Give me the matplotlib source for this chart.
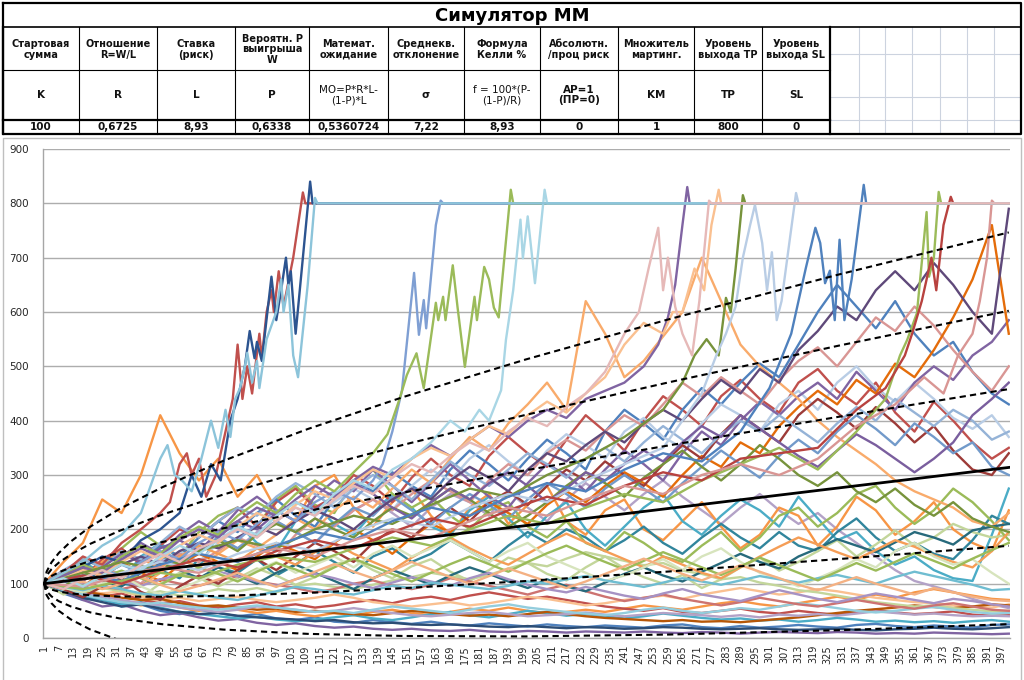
import matplotlib
matplotlib.use("Agg")
import matplotlib.pyplot as plt

# ---------------- table data ----------------
TITLE = "Симулятор ММ"
HEADERS = ["Стартовая\nсумма", "Отношение\nR=W/L", "Ставка\n(риск)", "Вероятн. P\nвыигрыша\nW",
           "Математ.\nожидание", "Среднекв.\nотклонение", "Формула\nКелли %", "Абсолютн.\n/проц риск",
           "Множитель\nмартинг.", "Уровень\nвыхода TP", "Уровень\nвыхода SL"]
FORMULAS = ["K", "R", "L", "P", "MO=P*R*L-\n(1-P)*L", "σ", "f = 100*(P-\n(1-P)/R)",
            "AP=1\n(ПР=0)", "KM", "TP", "SL"]
FORMULA_BOLD = [True, True, True, True, False, True, False, True, True, True, True]
VALUES = ["100", "0,6725", "8,93", "0,6338", "0,5360724", "7,22", "8,93", "0", "1", "800", "0"]

# ---------------- chart data ----------------
STEPS = [1, 9, 17, 25, 33, 41, 49, 57, 65, 73, 81, 89, 97, 105, 113, 121, 129, 137, 145, 153,
         161, 169, 177, 185, 193, 201, 209, 217, 225, 233, 241, 249, 257, 265, 273, 281, 289, 297,
         305, 313, 321, 329, 337, 345, 353, 361, 369, 377, 385, 393, 400]

N1 = [100,140,175,255,230,300,410,340,290,330, 260,300,235,215,280,300,240,205,250,275,
      225,190,240,265,210,245,280,215,190,235, 255,200,180,215,250,205,165,190,240,225,
      170,205,260,235,190,215,250,200,175,160, 235]
N2 = [100,115,140,120,105,150,175,145,130,190, 210,175,160,215,245,210,190,230,265,240,
      205,190,235,260,220,185,225,250,200,170, 205,240,265,215,190,225,255,235,205,260,
      220,180,195,160,135,150,125,110,105,190, 275]
N3 = [100,85,110,130,100,95,125,110,145,130, 120,145,115,135,160,140,120,150,165,140,
      155,180,160,140,170,195,175,200,185,160, 180,205,175,155,185,210,185,165,195,170,
      160,195,220,185,160,175,155,145,180,225, 210]
N4 = [100,80,95,115,90,75,100,120,110,95, 110,128,115,98,112,135,145,125,110,132,
      145,122,105,125,148,138,118,106,130,150, 128,112,100,116,92,108,130,148,124,140,
      160,180,150,172,198,170,185,210,195,185, 190]
N5 = [100,120,145,130,165,195,170,150,195,225, 240,205,255,280,245,230,290,310,265,240,
      260,225,200,235,250,205,185,215,175,160, 195,175,150,140,170,195,160,185,225,240,
      205,230,265,280,240,210,235,275,250,215, 180]
N6 = [100,125,110,145,165,135,170,200,185,215, 240,205,250,275,240,260,300,280,250,295,
      330,300,280,335,370,340,315,365,410,380, 345,400,445,420,390,445,475,440,415,470,
      495,455,430,470,415,380,435,400,360,330, 350]
N7 = [100,110,135,120,100,145,170,150,185,215, 195,230,255,225,205,255,290,270,305,280,
      260,310,345,320,290,330,365,340,310,380, 420,395,365,420,460,430,470,505,480,540,
      600,650,610,570,620,560,520,545,490,450, 430]
N8 = [100,90,115,135,115,100,130,160,140,175, 200,185,215,240,225,250,275,255,235,280,
      310,290,330,355,325,300,345,375,355,330, 380,405,370,350,395,430,410,380,430,455,
      420,470,500,460,435,470,440,405,385,410, 370]
N9 = [100,115,135,120,150,175,155,190,215,195, 235,260,235,215,260,290,270,310,280,250,
      285,320,290,260,240,285,320,300,270,310, 345,320,290,340,380,355,400,435,410,445,
      470,440,490,455,420,470,500,475,520,545, 585]
N10 = [100,95,110,130,115,100,135,155,140,160, 185,170,150,190,220,205,235,255,235,265,
       290,270,250,290,320,300,340,365,345,380, 410,390,430,470,445,480,455,430,475,510,
       535,500,545,590,565,610,575,530,490,455, 500]
N11 = [100,110,95,120,140,120,105,135,155,140, 125,150,175,160,145,175,200,180,155,185,
       210,195,225,250,230,210,245,270,250,280, 305,285,260,300,335,315,360,340,390,425,
       455,430,475,450,505,480,530,590,660,760, 560]
N12 = [100,90,105,125,110,95,120,145,130,155, 180,165,190,220,200,235,260,240,275,310,
       285,330,370,345,395,430,470,420,620,560, 480,510,555,600,700,620,540,500,470,440,
       400,370,345,320,290,270,255,240,215,205, 230]
N13 = [100,90,75,95,110,85,70,95,115,100, 125,145,125,150,175,160,140,175,200,185,
       215,240,215,250,270,245,280,310,290,325, 300,280,320,355,330,375,410,385,360,410,
       440,415,385,425,395,360,390,345,310,300, 340]
N14 = [100,115,130,110,95,125,145,130,160,185, 165,195,215,195,175,210,235,255,230,205,
       240,265,250,225,270,240,215,255,285,260, 235,265,290,260,235,210,240,265,235,210,
       230,200,175,150,125,105,95,85,72,62, 55]
N15 = [100,105,90,115,135,120,150,135,160,185, 165,190,215,195,175,210,240,225,260,235,
       210,240,265,245,220,255,285,265,240,275, 300,275,250,285,315,345,320,295,335,365,
       340,380,410,385,355,395,370,340,360,315, 300]
N16 = [100,92,85,100,115,95,80,90,105,120, 105,125,140,120,135,150,130,155,170,150,
       165,180,160,140,160,175,150,135,120,105, 115,130,145,125,150,165,140,120,110,95,
       110,125,145,130,160,175,150,135,145,120, 100]
N17 = [100,110,125,115,135,150,135,160,175,165, 185,205,190,215,235,220,200,230,255,275,
       255,290,315,295,270,310,340,325,355,380, 360,395,420,400,440,475,450,495,470,530,
       565,610,585,640,675,640,690,650,600,560, 790]
M1 = [100,110,125,105,95,120,140,125,110,130, 115,100,120,135,120,105,90,110,125,112,
      98,115,130,118,104,92,108,95,86,102, 118,130,115,104,122,138,155,140,128,150,
      165,182,170,158,176,195,185,172,198,205, 210]
M2 = [100,120,110,140,160,145,130,150,170,155, 140,165,150,135,158,175,155,140,125,148,
      168,185,165,148,135,155,175,192,176,160, 145,130,150,135,120,110,130,150,168,185,
      172,158,145,162,180,168,152,140,130,160, 195]
M3 = [100,125,145,130,160,145,175,205,185,215, 240,225,260,285,265,240,275,300,280,255,
      290,325,300,280,310,340,320,295,330,350, 325,360,390,365,340,375,400,380,410,385,
      360,395,425,400,440,415,390,420,400,365, 380]
M4 = [100,95,115,130,110,140,155,135,165,180, 160,190,210,195,220,200,185,215,240,225,
      250,275,255,230,205,225,250,280,305,285, 260,295,320,345,315,290,320,355,330,300,
      280,305,270,250,275,245,225,250,220,205, 195]
M5 = [100,115,105,130,155,140,165,180,160,195, 215,200,230,250,235,260,285,265,240,220,
      250,275,255,285,305,280,250,275,305,290, 320,345,325,360,390,370,410,385,360,335,
      315,345,375,355,330,305,330,360,410,440, 470]
L1 = [100,82,70,74,58,62,50,44,52,46, 40,44,36,33,38,30,28,33,29,26,
      30,25,23,27,24,21,25,22,20,23, 21,19,23,25,20,18,22,19,21,24,
      21,19,24,26,22,20,23,21,19,24, 25]
L2 = [100,85,70,58,62,50,42,46,38,32, 35,28,24,27,22,19,21,17,15,17,
      14,13,15,12,11,13,12,10,12,11, 10,12,10,9,11,10,8,10,11,10,
      9,11,10,8,9,8,10,9,8,7, 8]
L3 = [100,88,76,82,68,60,65,56,50,58, 52,46,50,44,40,46,42,48,52,46,
      42,48,54,50,56,50,45,48,52,48, 54,60,56,52,58,64,68,62,58,64,
      70,76,70,80,74,84,90,84,78,72, 70]
L4 = [100,90,78,70,62,66,56,48,44,40, 36,39,34,31,34,38,42,36,33,38,
      44,48,42,38,44,50,46,41,44,40, 36,40,45,41,37,34,36,32,34,30,
      33,37,34,30,32,29,31,28,31,33, 30]
L5 = [100,92,84,76,82,70,64,68,60,56, 62,66,58,62,56,60,66,70,64,72,
      76,70,78,84,78,72,76,70,64,58, 54,50,55,48,46,50,54,48,45,50,
      46,43,48,52,47,44,46,49,43,41, 42]
L6 = [100,96,88,82,86,76,70,74,68,72, 76,70,66,70,74,80,74,66,62,58,
      62,66,60,64,70,76,72,66,60,64, 70,74,78,72,80,86,92,86,80,84,
      90,86,80,74,70,66,64,60,58,56, 62]
L7 = [100,86,74,66,58,62,54,48,44,46, 41,38,36,34,31,33,29,27,28,25,
      24,25,23,21,20,22,20,18,20,19, 17,18,20,19,17,16,17,18,16,15,
      16,17,15,14,16,17,19,17,16,18, 20]
L8 = [100,94,86,80,74,70,72,64,58,60, 56,52,54,48,50,46,44,42,46,50,
      47,44,41,43,40,44,48,44,40,37, 35,33,31,33,30,31,29,32,35,38,
      42,46,50,53,56,60,57,55,58,62, 60]
L9 = [100,90,82,76,70,64,60,56,52,48, 52,58,56,52,48,50,55,50,46,42,
      40,43,46,48,44,40,42,44,47,43, 40,43,46,44,42,39,42,38,43,41,
      44,41,45,49,46,43,45,42,40,41, 40]
L10 = [100,90,84,92,86,80,86,78,82,90, 86,92,84,96,100,94,90,98,106,112,
       120,114,108,116,128,138,132,146,158,150, 142,134,138,124,118,108,112,102,96,88,
       84,78,72,66,62,58,60,55,52,49, 50]
L11 = [100,88,80,72,66,62,65,60,56,52, 56,60,56,52,48,50,46,52,58,54,
       50,46,52,58,62,56,52,48,45,42, 46,52,56,50,46,50,55,52,58,64,
       60,55,50,47,50,54,57,52,48,45, 46]
L12 = [100,108,102,94,90,98,108,100,96,106, 114,104,98,92,84,90,100,106,96,90,
       98,110,104,96,88,80,90,98,86,76, 68,74,80,72,66,60,66,74,68,62,
       58,64,70,64,58,54,60,64,58,52, 50]
L13 = [100,106,98,110,104,96,108,116,110,122, 114,104,96,108,118,110,100,92,102,112,
       104,96,110,120,108,98,90,84,94,86, 78,72,82,90,80,74,68,78,88,80,
       72,66,74,82,76,70,64,72,68,62, 58]
L14 = [100,94,88,96,90,82,78,86,80,74, 70,78,86,94,90,84,80,88,96,92,
       102,98,94,90,96,104,100,108,114,106, 100,94,102,110,104,98,106,114,108,102,
       110,116,108,100,112,122,114,106,98,88, 90]
L15 = [100,108,96,112,124,110,98,116,130,118, 104,122,138,126,112,130,146,132,118,104,
       120,136,150,136,122,140,156,170,154,140, 126,142,158,144,130,116,132,148,134,120,
       106,122,138,124,140,156,142,128,146,162, 175]
L16 = [100,94,104,90,100,112,98,86,96,108, 120,106,94,108,122,136,122,110,124,140,
       126,112,100,114,128,116,104,92,104,118, 132,146,132,118,106,120,134,122,110,98,
       88,100,112,100,90,80,92,84,76,70, 68]

# walks that reach the take-profit level (own step lists)
HA_X = [1,9,17,25,33,41,49,53,57,60,62,65,68,72,76,79,81,83,85,87,90,91,93,95,96,98,100,104,108,109,400]
HA_Y = [100,120,150,135,175,200,230,250,320,340,300,330,260,300,380,440,540,440,500,450,560,515,600,640,600,675,610,700,820,800,800]
HB_X = [1,9,17,25,33,41,49,57,62,66,70,74,78,81,84,86,88,89,91,95,97,99,101,102,103,105,108,111,112,400]
HB_Y = [100,110,130,150,140,180,200,230,300,260,320,290,400,440,500,565,515,545,510,665,585,640,700,650,675,560,700,840,800,800]
HC_X = [1,9,17,25,33,41,45,49,52,55,58,62,66,70,73,76,78,80,82,84,85,87,89,90,93,97,99,100,102,104,106,110,113,114,400]
HC_Y = [100,120,140,170,190,230,280,330,355,300,290,270,330,400,350,420,370,440,460,500,525,470,510,460,550,600,660,600,650,520,480,650,810,800,800]
HD_X = [1,9,17,25,33,41,49,57,65,73,81,89,97,105,113,121,129,137,141,145,149,154,156,158,159,163,165,166,400]
HD_Y = [100,92,110,125,115,140,160,145,175,195,180,210,235,215,250,270,255,290,320,380,456,672,558,622,570,760,805,800,800]
HE_X = [1,9,17,25,33,41,49,57,65,73,81,89,97,105,113,121,129,137,143,148,151,155,158,163,164,166,167,170,172,175,179,180,183,185,187,189,194,195,400]
HE_Y = [100,115,135,120,150,170,155,185,205,190,225,250,230,265,290,270,305,340,375,440,484,524,460,617,585,628,585,686,608,499,628,585,683,660,608,590,825,800,800]
HF_X = [1,9,17,25,33,41,49,57,65,73,81,89,97,105,113,121,129,137,145,153,161,169,175,181,185,190,192,195,198,199,201,204,208,209,400]
HF_Y = [100,110,95,115,135,125,150,170,155,180,205,190,225,250,230,265,290,275,310,330,360,400,380,420,400,456,549,640,770,699,776,653,825,800,800]
HG_X = [1,9,17,25,33,41,49,57,65,73,81,89,97,105,113,121,129,137,145,153,161,169,177,185,193,201,209,217,225,233,241,249,255,259,262,265,267,268,400]
HG_Y = [100,115,130,120,145,165,150,180,200,185,215,240,225,255,280,260,290,315,300,330,355,335,365,390,370,400,420,405,440,455,470,500,540,590,650,760,830,800,800]
HH_X = [1,9,17,25,33,41,49,57,65,73,81,89,97,105,113,121,129,137,145,153,161,169,177,185,193,201,209,217,225,233,241,247,251,255,257,259,262,265,269,272,276,277,400]
HH_Y = [100,90,110,125,110,135,155,140,165,180,200,185,215,240,225,255,280,265,295,320,305,335,360,345,380,405,390,425,450,490,560,600,680,755,640,700,610,560,520,620,805,800,800]
HI_X = [1,9,17,25,33,41,49,57,65,73,81,89,97,105,113,121,129,137,145,153,161,169,177,185,193,201,209,217,225,233,241,249,257,261,265,270,274,277,280,281,400]
HI_Y = [100,110,125,115,140,160,145,170,190,175,205,230,215,245,270,255,285,310,295,330,350,335,365,390,375,410,435,415,450,480,540,580,560,600,600,680,640,760,825,800,800]
HJ_X = [1,17,33,49,65,81,97,113,129,145,161,177,193,209,225,241,257,265,270,275,280,283,285,287,290,291,400]
HJ_Y = [100,120,140,125,160,180,165,200,225,210,245,275,260,300,330,370,420,470,520,550,520,626,600,680,815,800,800]
HK_X = [1,17,33,49,65,81,97,113,129,145,161,177,193,209,225,241,257,265,273,279,283,287,290,293,295,298,300,302,304,306,309,312,313,400]
HK_Y = [100,95,120,140,125,155,175,160,195,220,205,240,265,250,290,320,350,400,450,520,560,610,700,760,797,727,640,710,585,620,720,819,800,800]
HL_X = [1,17,33,49,65,81,97,113,129,145,161,177,193,209,225,241,257,273,289,301,310,316,320,322,324,326,328,330,332,335,340,341,400]
HL_Y = [100,115,105,135,155,140,170,195,180,215,240,225,260,285,270,310,340,325,380,460,560,680,755,727,653,676,585,733,585,660,834,800,800]
HM_X = [1,17,33,49,65,81,97,113,129,145,161,177,193,209,225,241,257,273,289,305,321,337,349,355,358,362,366,367,369,371,372,400]
HM_Y = [100,90,105,120,110,135,150,140,165,185,170,200,225,210,240,265,250,290,320,350,310,380,440,520,549,598,784,665,700,821,800,800]
HN_X = [1,17,33,49,65,81,97,113,129,145,161,177,193,209,225,241,257,273,289,305,321,337,349,357,360,364,368,370,373,376,377,400]
HN_Y = [100,115,100,125,145,130,160,180,165,195,220,205,235,260,245,280,305,290,330,340,350,420,460,520,560,620,700,640,760,812,800,800]
HO_X = [1,17,33,49,65,81,97,113,129,145,161,177,193,209,225,241,257,273,289,305,321,337,353,365,373,379,385,388,391,393,394,400]
HO_Y = [100,95,115,130,120,145,165,150,180,200,185,215,240,225,255,280,265,300,320,300,330,390,430,480,450,520,560,620,700,805,800,800]

# theoretical envelope (mean and one standard deviation) read at a few steps
ENV_STEPS = [1, 2, 4, 7, 12, 20, 32, 50, 75, 110, 150, 200, 260, 330, 400]
ENV_MEAN = [100, 100.5, 101.6, 103.2, 105.9, 110.2, 116.6, 126.3, 139.7, 158.4, 179.9, 206.7, 238.8, 276.4, 313.9]
ENV_DEV = [0, 7.22, 12.5, 17.7, 23.9, 31.5, 40.2, 50.5, 62.1, 75.4, 88.1, 101.9, 116.2, 131.0, 144.2]

Y_TICKS = [0, 100, 200, 300, 400, 500, 600, 700, 800, 900]
X_TICKS = list(range(1, 400, 6))

# ---------------- styles ----------------
GRID_SERIES = [
    (N14, "#B3A2C7"), (L1, "#4F81BD"), (N1, "#F79646"), (L2, "#8064A2"), (N2, "#4BACC6"),
    (L3, "#F79646"), (N3, "#31859C"), (L4, "#4BACC6"), (N4, "#C3D69B"), (L5, "#C0504D"),
    (N5, "#9BBB59"), (L6, "#FAC090"), (N6, "#C0504D"), (L7, "#2C4D75"), (N7, "#4F81BD"),
    (L8, "#B65708"), (N8, "#B9CDE5"), (L9, "#B3A2C7"), (N9, "#8064A2"), (L10, "#C3D69B"),
    (N10, "#D99694"), (L11, "#93CDDD"), (N11, "#E46C0A"), (L12, "#CD7371"), (N12, "#F9AB6B"),
    (M1, "#276A7C"), (N13, "#9D3B38"), (M2, "#F59D56"), (N15, "#729ACA"), (M3, "#95B3D7"),
    (L13, "#A692C4"), (N16, "#D7E4BD"), (M4, "#77933C"), (L14, "#6FBDD1"), (M5, "#7A5E9E"),
    (L15, "#9BBB59"), (L16, "#F4B183"), (N17, "#5F497A"),
]
HIT_SERIES = [
    (HA_X, HA_Y, "#C0504D"), (HB_X, HB_Y, "#2C5490"), (HD_X, HD_Y, "#7F9FD3"),
    (HE_X, HE_Y, "#9BBB59"), (HG_X, HG_Y, "#8064A2"), (HI_X, HI_Y, "#FAC090"),
    (HJ_X, HJ_Y, "#77933C"), (HK_X, HK_Y, "#B9CDE5"), (HL_X, HL_Y, "#4F81BD"),
    (HM_X, HM_Y, "#9BBB59"), (HN_X, HN_Y, "#B8423F"), (HO_X, HO_Y, "#D99694"),
    (HF_X, HF_Y, "#A9D6E5"), (HC_X, HC_Y, "#8CC4DA"), (HH_X, HH_Y, "#E6B9B8"),
]

W, H = 1024, 680
fig = plt.figure(figsize=(W / 100, H / 100), dpi=100)
fig.patch.set_facecolor("white")

bg = fig.add_axes([0, 0, 1, 1], zorder=0)
bg.set_xlim(0, W)
bg.set_ylim(H, 0)
bg.axis("off")

# ---- table ----
COL_X = [3, 79, 157, 235, 309, 388, 464, 540, 618, 694, 762, 830]
R_TOP, R_TITLE, R_HEAD, R_FORM, R_VAL = 3, 27, 70, 120, 133
RIGHT = 1021
light = "#CCD3DF"
for gx in [859, 885, 912, 940, 967, 994]:
    bg.plot([gx, gx], [R_TITLE, R_VAL], color=light, lw=0.8)
for gy in [54, 97, R_FORM]:
    bg.plot([830, RIGHT], [gy, gy], color=light, lw=0.8)
bg.plot([3, RIGHT, RIGHT, 3, 3], [R_TOP, R_TOP, R_VAL + 1, R_VAL + 1, R_TOP], color="black", lw=1.6)
bg.plot([3, RIGHT], [R_TITLE, R_TITLE], color="black", lw=1.2)
bg.plot([3, 830], [R_HEAD, R_HEAD], color="black", lw=0.8)
bg.plot([3, 830], [R_FORM, R_FORM], color="black", lw=1.6)
for i, cx in enumerate(COL_X):
    bg.plot([cx, cx], [R_TITLE, R_VAL + 1], color="black", lw=1.6 if i in (0, len(COL_X) - 1) else 0.8)

bg.text(512, 16, TITLE, ha="center", va="center", fontsize=13, fontweight="bold")
for i in range(len(HEADERS)):
    cx = (COL_X[i] + COL_X[i + 1]) / 2
    bg.text(cx, (R_TITLE + R_HEAD) / 2 + 1, HEADERS[i], ha="center", va="center", fontsize=7,
            fontweight="bold", linespacing=1.05, color="#111111")
    bg.text(cx, (R_HEAD + R_FORM) / 2, FORMULAS[i], ha="center", va="center", fontsize=7.5,
            fontweight="bold" if FORMULA_BOLD[i] else "normal", linespacing=1.1, color="#111111")
    bg.text(cx, (R_FORM + R_VAL) / 2 + 1, VALUES[i], ha="center", va="center", fontsize=7.5,
            fontweight="bold", color="#111111")

# chart border
bg.plot([3, 3, RIGHT, RIGHT], [H + 5, 138, 138, H + 5], color="#BFBFBF", lw=1.0)

# ---- chart ----
PL, PR, PT, PB = 43, 1010, 149, 638
ax = fig.add_axes([PL / W, (H - PB) / H, (PR - PL) / W, (PB - PT) / H], zorder=1)
ax.set_facecolor("none")
ax.set_xlim(0.5, 400.5)
ax.set_ylim(0, 900)
ax.set_yticks(Y_TICKS)
ax.yaxis.grid(True, color="#ADADAD", lw=1.0)
ax.set_axisbelow(True)
for s in ("top", "right"):
    ax.spines[s].set_visible(False)
for s in ("left", "bottom"):
    ax.spines[s].set_color("#A6A6A6")
    ax.spines[s].set_linewidth(1.0)
ax.set_xticks(X_TICKS)
ax.set_xticklabels([str(v) for v in X_TICKS], rotation=90, fontsize=7, color="#262626")
ax.tick_params(axis="x", length=0, pad=5)
ax.tick_params(axis="y", length=0, pad=10, labelsize=7.5, labelcolor="#262626")

for vals, col in GRID_SERIES:
    ax.plot(STEPS, vals, color=col, lw=1.7, solid_joinstyle="round")
for xs, ys, col in HIT_SERIES:
    ax.plot(xs, ys, color=col, lw=1.7, solid_joinstyle="round")

for k in (3, 2, 1, -1, -2, -3):
    ax.plot(ENV_STEPS, [m + k * d for m, d in zip(ENV_MEAN, ENV_DEV)], color="black", lw=1.5,
            linestyle=(0, (3, 2)), zorder=5)
ax.plot(ENV_STEPS, ENV_MEAN, color="black", lw=2.0, zorder=5)

fig.savefig("out.png", dpi=100)
